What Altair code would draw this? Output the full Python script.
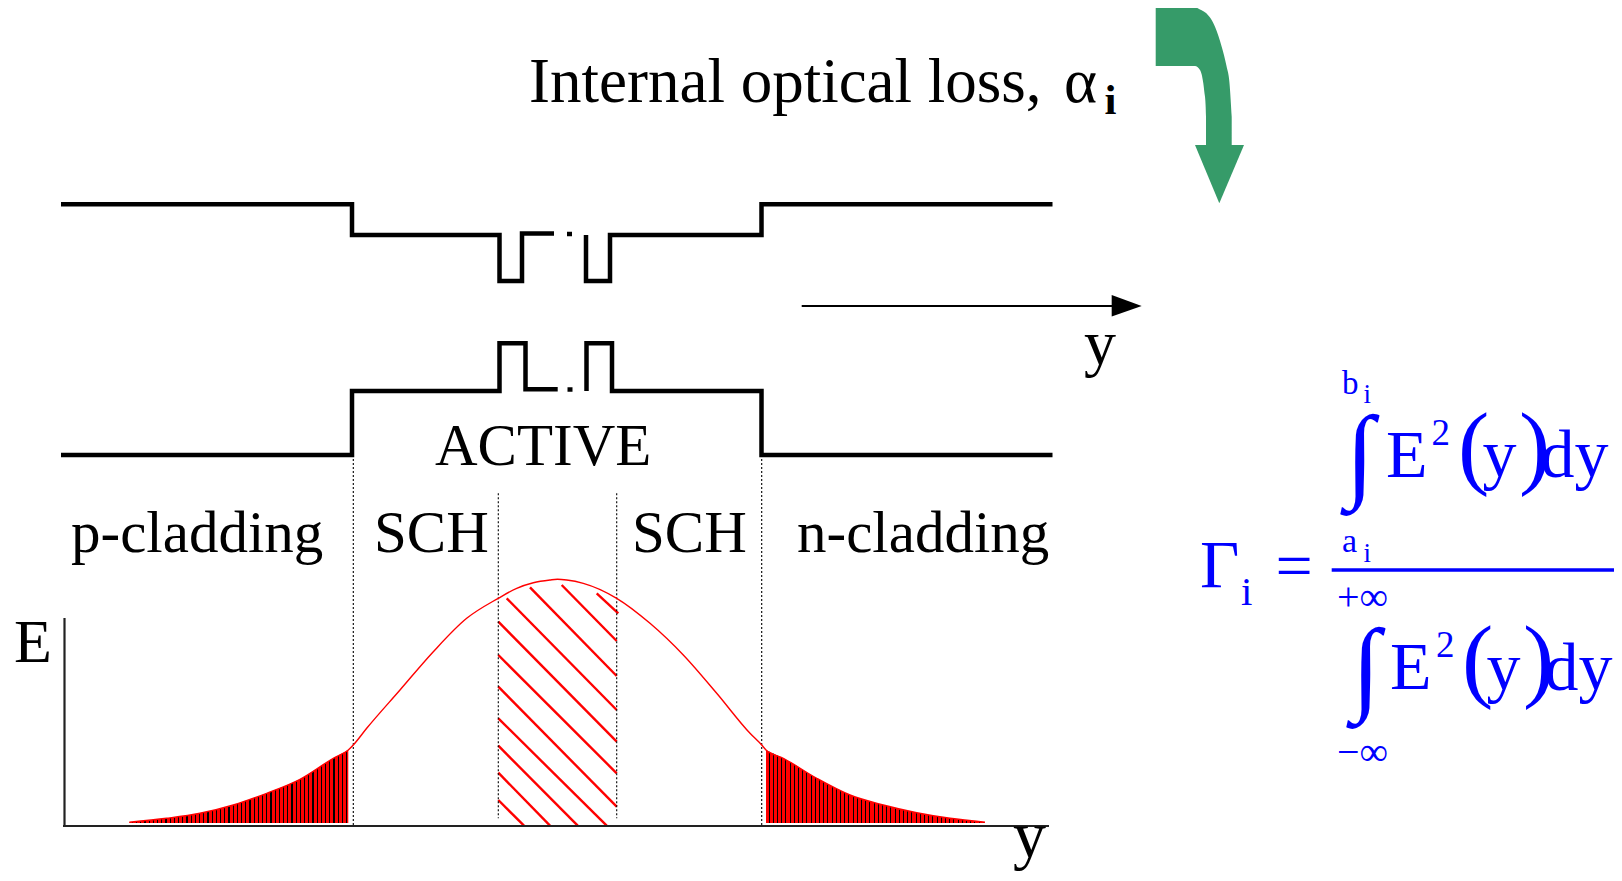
import altair as alt
import pandas as pd

# ------------------------------------------------------------------
# Diagram frame: "pos" runs left->right, "depth" is read top->down.
# Heights plotted = TOP - depth (so the scale keeps its usual direction)
# ------------------------------------------------------------------
TOP = 873.0

# ---- band-edge profiles (two step lines with two quantum wells) ----
band_seg = (["cbA"] * 8 + ["cbB"] * 2 + ["cbC"] * 7 +
            ["vbD"] * 8 + ["vbE"] * 2 + ["vbF"] * 7)
band_pos = [61, 352, 352, 499.5, 499.5, 522, 522, 554,
            567, 572,
            586, 586, 610, 610, 761.5, 761.5, 1052.5,
            61, 352, 352, 499.5, 499.5, 525.5, 525.5, 557.7,
            567.5, 572.5,
            586.5, 586.5, 612, 612, 761.5, 761.5, 1052.5]
band_depth = [204.3, 204.3, 235, 235, 281, 281, 233.5, 233.5,
              234, 234,
              235, 281, 281, 235, 235, 204.3, 204.3,
              455, 455, 391, 391, 343.3, 343.3, 389.3, 389.3,
              389.5, 389.5,
              391, 343.3, 343.3, 391, 391, 455, 455]

# ---- optical mode profile E(y) ----
curve_pos = [129.3, 166.7, 200, 233.3, 266.7, 300, 333.3, 348.3, 353.3, 366.7,
             400, 433.3, 466.7, 498.3, 516.7, 533.3, 550, 557.5, 566.7, 583.3,
             616.7, 650, 683.3, 716.7, 750, 761.7, 766, 783.3, 816.7, 850,
             883.3, 916.7, 950, 985]
curve_depth = [822.3, 818.3, 813.3, 805, 793.3, 779.3, 758.3, 750, 745, 728.3,
               690, 651.7, 618.3, 598.3, 588.3, 582.7, 580, 579.3, 580, 583.3,
               598.3, 623.3, 655, 693.3, 733.3, 745, 750, 758.3, 778.3, 795,
               805, 812.7, 818.3, 822.3]

# ---- cladding tails (shaded) ----
ltail_pos = [129.3, 166.7, 200, 233.3, 266.7, 300, 333.3, 348.3]
ltail_depth = [822.3, 818.3, 813.3, 805, 793.3, 779.3, 758.3, 750]
rtail_pos = [766, 783.3, 816.7, 850, 883.3, 916.7, 950, 985]
rtail_depth = [750, 758.3, 778.3, 795, 805, 812.7, 818.3, 822.3]
tail_floor = 823.0

# ---- diagonal hatch in the active region ----
hatch_x1 = [596.7, 561.7, 530, 506.7, 498.3, 498.3, 498.3, 498.3, 498.3, 498.3, 498.3]
hatch_d1 = [593.3, 585, 587.3, 598.3, 621.7, 655, 686.7, 718.3, 745.7, 772.7, 800]
hatch_x2 = [618.3, 616.7, 616.7, 616.7, 616.7, 616.7, 616.7, 606.7, 577.7, 550, 524]
hatch_d2 = [613.3, 641, 676, 710, 741.7, 773.3, 806.7, 825.7, 825.7, 825.7, 825.7]

# ---- region dividers (dotted) ----
div_pos = [353.3, 498.3, 616.7, 761.7]
div_top = [455, 493.3, 493.3, 455]
div_bot = [826, 818.3, 818.3, 826]

# ---- axes of the E(y) plot and the y arrow ----
axis_x1 = [64.5, 63]
axis_x2 = [64.5, 1049]
axis_d1 = [618, 826]
axis_d2 = [826, 826]

yarrow_x = [801.7, 1112]
yarrow_d = 306
yhead_pos = [1111.7, 1141.7]
yhead_d1 = [295, 306]
yhead_d2 = [316.5, 306]

# ---- green bent arrow (outline) ----
bend_pos = [1155.7, 1195, 1200, 1203.3, 1204.5, 1205.3, 1206, 1206.1,
            1215, 1221.7, 1226.5, 1229.5, 1231.7]
bend_top = [7.3, 7.3, 9.5, 11.2, 11.9, 12.4, 12.9, 13.0,
            26.7, 46.7, 66, 83.3, 116.7]
bend_bot = [66, 66, 70, 83.3, 93.3, 100, 116.7, 145.5,
            145.5, 145.5, 145.5, 145.5, 145.5]
head_pos = [1195, 1219.3, 1244]
head_top = [145, 145, 145]
head_bot = [145, 203.3, 145]

# ---- fraction bar ----
frac_x = [1331.7, 1618.3]
frac_d = 570

# ---- texts ----
BLK, BLU = "#000000", "#0000FF"
txt_label = ["Internal optical loss,", "\u03b1", "ACTIVE", "p-cladding", "SCH", "SCH",
             "n-cladding", "E", "y", "y",
             "\u0393", "i", "=", "b", "i", "a", "i", "+\u221e", "\u2212\u221e",
             "E", "2", "(", "y", ")", "dy",
             "E", "2", "(", "y", ")", "dy"]
txt_pos = [529, 1064, 435, 71, 374, 632, 797, 14, 1013, 1084,
           1200, 1241, 1275.5, 1342, 1363.5, 1342, 1363.5, 1337, 1337,
           1386, 1431.5, 1458, 1482.5, 1519, 1540.5,
           1390, 1436, 1462, 1486.5, 1523, 1544.5]
txt_depth = [102, 102, 465, 551.7, 551.7, 551.7, 551.7, 662, 857, 364.4,
             587.3, 605, 588, 393.5, 402.7, 551.7, 562, 610, 765,
             476.7, 445, 477, 477, 477, 477,
             689.3, 656.7, 690, 690, 690, 690]
txt_size = [63, 63, 59, 59, 59, 59, 59, 62, 66, 64,
            68, 41, 66, 33, 27, 34, 27, 40, 40,
            68, 37, 94, 68, 94, 68,
            68, 37, 94, 68, 94, 68]
txt_color = [BLK] * 10 + [BLU] * 21

bold_label = ["i"]
bold_pos = [1104.5]
bold_depth = [114]
bold_size = [43]

int_pos = [1360, 1366]
int_depth = [488, 701]
int_size = [104, 104]

# ------------------------------------------------------------------
xs = alt.Scale(domain=[8, 1614], nice=False, zero=False)
ys = alt.Scale(domain=[0, 865], nice=False, zero=False)


def X(f="x"):
    return alt.X(f"{f}:Q", scale=xs, axis=None)


def Y(f="lv"):
    return alt.Y(f"{f}:Q", scale=ys, axis=None)


def lv(vals):
    return [TOP - v for v in vals]


RED = "#FF0000"


def stripe_fill(width_px, period, line_w):
    n = int(width_px // period)
    stops = [{"offset": 0, "color": RED}]
    for k in range(n):
        a = (k + 0.6) * period / width_px
        b = min(a + line_w / width_px, 1)
        stops += [{"offset": a, "color": RED}, {"offset": a, "color": "#000000"},
                  {"offset": b, "color": "#000000"}, {"offset": b, "color": RED}]
    stops.append({"offset": 1, "color": RED})
    return {"gradient": "linear", "x1": 0, "y1": 0, "x2": 1, "y2": 0, "stops": stops}


bands = pd.DataFrame({"seg": band_seg, "x": band_pos, "lv": lv(band_depth),
                      "i": list(range(len(band_seg)))})
band_layer = alt.Chart(bands).mark_line(color="black", strokeWidth=4.5,
                                        strokeJoin="miter", strokeCap="butt").encode(
    x=X(), y=Y(), detail="seg:N", order="i:Q")

ltail = pd.DataFrame({"x": ltail_pos, "lv": lv(ltail_depth), "lv0": TOP - tail_floor})
rtail = pd.DataFrame({"x": rtail_pos, "lv": lv(rtail_depth), "lv0": TOP - tail_floor})
ltail_layer = alt.Chart(ltail).mark_area(
    interpolate="monotone",
    fill=stripe_fill(ltail_pos[-1] - ltail_pos[0], 4.2, 1.1)).encode(
    x=X(), y=Y(), y2="lv0:Q")
rtail_layer = alt.Chart(rtail).mark_area(
    interpolate="monotone",
    fill=stripe_fill(rtail_pos[-1] - rtail_pos[0], 4.2, 1.1)).encode(
    x=X(), y=Y(), y2="lv0:Q")

curve = pd.DataFrame({"x": curve_pos, "lv": lv(curve_depth)})
curve_layer = alt.Chart(curve).mark_line(color=RED, strokeWidth=1.4,
                                         interpolate="monotone").encode(x=X(), y=Y())

hatch = pd.DataFrame({"x": hatch_x1, "lv": lv(hatch_d1), "x2": hatch_x2, "lv2": lv(hatch_d2)})
hatch_layer = alt.Chart(hatch).mark_rule(color=RED, strokeWidth=2.4).encode(
    x=X(), y=Y(), x2="x2:Q", y2="lv2:Q")

divs = pd.DataFrame({"x": div_pos, "lv": lv(div_top), "lv2": lv(div_bot)})
div_layer = alt.Chart(divs).mark_rule(color="black", strokeWidth=1.1,
                                      strokeDash=[2, 2]).encode(x=X(), y=Y(), y2="lv2:Q")

axes = pd.DataFrame({"x": axis_x1, "x2": axis_x2, "lv": lv(axis_d1), "lv2": lv(axis_d2)})
axis_layer = alt.Chart(axes).mark_rule(color="#222222", strokeWidth=2.2).encode(
    x=X(), y=Y(), x2="x2:Q", y2="lv2:Q")

yarrow = pd.DataFrame({"x": [yarrow_x[0]], "x2": [yarrow_x[1]], "lv": [TOP - yarrow_d]})
yarrow_layer = alt.Chart(yarrow).mark_rule(color="black", strokeWidth=2).encode(
    x=X(), x2="x2:Q", y=Y())
yhead = pd.DataFrame({"x": yhead_pos, "lv": lv(yhead_d1), "lv2": lv(yhead_d2)})
yhead_layer = alt.Chart(yhead).mark_area(color="black").encode(x=X(), y=Y(), y2="lv2:Q")

GREEN = "#369B69"
bend = pd.DataFrame({"x": bend_pos, "lv": lv(bend_top), "lv2": lv(bend_bot)})
bend_layer = alt.Chart(bend).mark_area(color=GREEN, opacity=1,
                                       interpolate="monotone").encode(
    x=X(), y=Y(), y2="lv2:Q")
head = pd.DataFrame({"x": head_pos, "lv": lv(head_top), "lv2": lv(head_bot)})
head_layer = alt.Chart(head).mark_area(color=GREEN, opacity=1).encode(
    x=X(), y=Y(), y2="lv2:Q")

frac = pd.DataFrame({"x": [frac_x[0]], "x2": [frac_x[1]], "lv": [TOP - frac_d]})
frac_layer = alt.Chart(frac).mark_rule(color=BLU, strokeWidth=3.3).encode(
    x=X(), x2="x2:Q", y=Y())

texts = pd.DataFrame({"t": txt_label, "x": txt_pos, "lv": lv(txt_depth),
                      "fs": txt_size, "c": txt_color})
text_layer = alt.Chart(texts).mark_text(align="left", baseline="alphabetic",
                                        font="Liberation Serif").encode(
    x=X(), y=Y(), text="t:N",
    size=alt.Size("fs:Q", scale=None, legend=None),
    color=alt.Color("c:N", scale=None, legend=None))

bold = pd.DataFrame({"t": bold_label, "x": bold_pos, "lv": lv(bold_depth), "fs": bold_size})
bold_layer = alt.Chart(bold).mark_text(align="left", baseline="alphabetic",
                                       font="Liberation Serif", fontWeight="bold",
                                       color="black").encode(
    x=X(), y=Y(), text="t:N", size=alt.Size("fs:Q", scale=None, legend=None))

ints = pd.DataFrame({"t": ["\u222b", "\u222b"], "x": int_pos, "lv": lv(int_depth), "fs": int_size})
int_layer = alt.Chart(ints).mark_text(align="center", baseline="alphabetic",
                                      font="Liberation Serif", fontWeight="bold",
                                      color=BLU).encode(
    x=X(), y=Y(), text="t:N", size=alt.Size("fs:Q", scale=None, legend=None))

chart = alt.layer(
    ltail_layer, rtail_layer, hatch_layer, div_layer, curve_layer, axis_layer,
    band_layer, yarrow_layer, yhead_layer, bend_layer, head_layer, frac_layer,
    text_layer, bold_layer, int_layer
).properties(
    width=1606, height=865,
    autosize=alt.AutoSizeParams(type="none"),
    padding=0, background="white"
).configure_view(stroke=None)

chart.save("out.html", embed_options={"renderer": "svg", "actions": False})
